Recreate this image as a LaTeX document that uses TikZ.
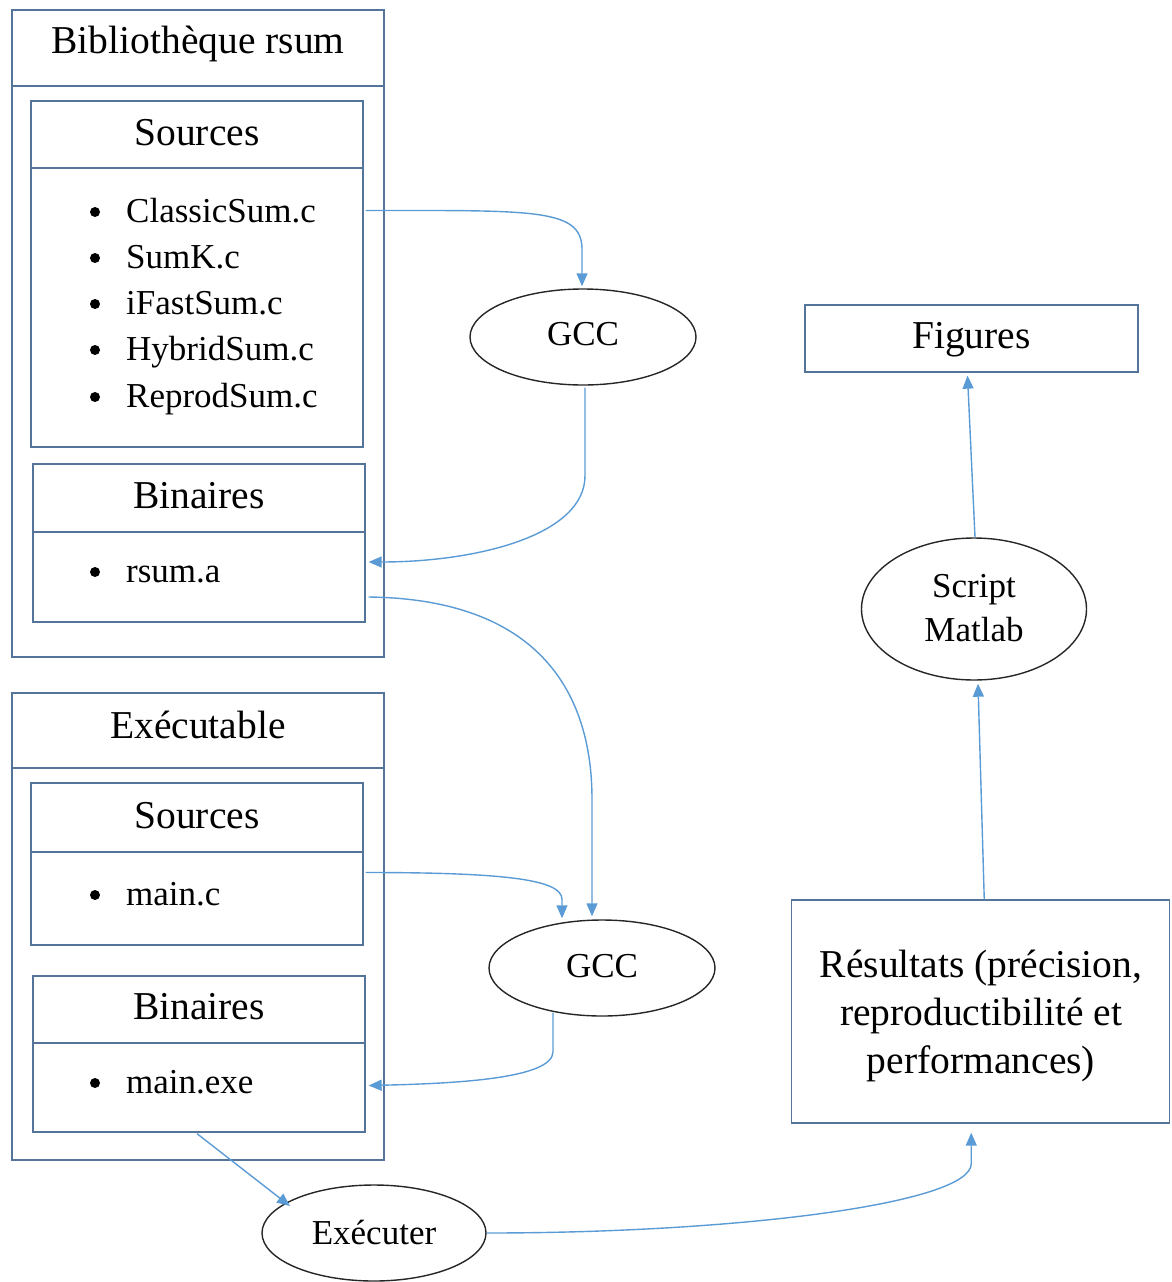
\documentclass[tikz,border=0pt]{standalone}
\usepackage{fontspec}
\setmainfont{Liberation Serif}
\usetikzlibrary{arrows.meta,shapes.geometric,calc}
\definecolor{boxc}{RGB}{84,117,153}
\definecolor{arrc}{RGB}{91,155,213}
\tikzset{
  frame/.style={draw=boxc, line width=1.3pt, rectangle, inner sep=0pt},
  oval/.style={draw=black!85, line width=1.4pt, ellipse, inner sep=0pt},
  hdr/.style={font=\fontsize{39.5}{48}\selectfont, inner sep=0pt, anchor=base},
  itm/.style={font=\fontsize{35}{44}\selectfont, inner sep=0pt, anchor=base west},
  bul/.style={circle, fill=black, inner sep=0pt, minimum size=10pt},
  ctr/.style={font=\fontsize{35}{44}\selectfont, inner sep=0pt, anchor=base},
  conn/.style={draw=arrc, line width=1.4pt, -{Triangle[length=13pt,width=11pt]}},
}
\begin{document}
\begin{tikzpicture}[x=1pt,y=-1pt]
\useasboundingbox (0,0) rectangle (1171,1282);
% --- Bibliotheque rsum
\node[frame, minimum width=372pt, minimum height=76pt] (o1h) at (198,48) {};
\node[frame, minimum width=372pt, minimum height=571pt] (o1b) at (198,371.5) {};
\node[frame, minimum width=332pt, minimum height=67pt] (s1h) at (197,134.5) {};
\node[frame, minimum width=332pt, minimum height=279pt] (s1b) at (197,307.5) {};
\node[frame, minimum width=332pt, minimum height=68pt] (b1h) at (199,498) {};
\node[frame, minimum width=332pt, minimum height=90pt] (b1b) at (199,577) {};
\node[hdr] (t1) at (198,53) {Bibliothèque rsum};
\node[hdr] (t2) at (197,145) {Sources};
\node[bul] (u1) at (95,212) {}; \node[itm] (i1) at (126,222) {ClassicSum.c};
\node[bul] (u2) at (95,258) {}; \node[itm] (i2) at (126,268) {SumK.c};
\node[bul] (u3) at (95,304) {}; \node[itm] (i3) at (126,314) {iFastSum.c};
\node[bul] (u4) at (95,350) {}; \node[itm] (i4) at (126,360) {HybridSum.c};
\node[bul] (u5) at (95,397) {}; \node[itm] (i5) at (126,407) {ReprodSum.c};
\node[hdr] (t3) at (199,508) {Binaires};
\node[bul] (u6) at (95,572) {}; \node[itm] (i6) at (126,582) {rsum.a};
% --- Executable
\node[frame, minimum width=372pt, minimum height=75pt] (o2h) at (198,730.5) {};
\node[frame, minimum width=372pt, minimum height=392pt] (o2b) at (198,964) {};
\node[frame, minimum width=332pt, minimum height=69pt] (s2h) at (197,817.5) {};
\node[frame, minimum width=332pt, minimum height=93pt] (s2b) at (197,898.5) {};
\node[frame, minimum width=332pt, minimum height=67pt] (b2h) at (199,1009.5) {};
\node[frame, minimum width=332pt, minimum height=89pt] (b2b) at (199,1087.5) {};
\node[hdr] (t4) at (198,738) {Exécutable};
\node[hdr] (t5) at (197,828) {Sources};
\node[bul] (u7) at (95,895) {}; \node[itm] (i7) at (126,905) {main.c};
\node[hdr] (t6) at (199,1019) {Binaires};
\node[bul] (u8) at (95,1083) {}; \node[itm] (i8) at (126,1093) {main.exe};
% --- ellipses
\node[oval, minimum width=226pt, minimum height=96pt] (g1) at (583,337) {};
\node[ctr] (g1t) at (583,345) {GCC};
\node[oval, minimum width=226pt, minimum height=96pt] (g2) at (602,968) {};
\node[ctr] (g2t) at (602,977) {GCC};
\node[oval, minimum width=224pt, minimum height=96pt] (ex) at (374,1233) {};
\node[ctr] (ext) at (374,1244) {Exécuter};
\node[oval, minimum width=225pt, minimum height=142pt] (sm) at (974,609) {};
\node[ctr] (sm1) at (974,597) {Script};
\node[ctr] (sm2) at (974,641) {Matlab};
% --- right boxes
\node[frame, minimum width=333pt, minimum height=67pt] (fig) at (971.5,338.5) {};
\node[hdr] (figt) at (971.5,348) {Figures};
\node[frame, minimum width=378pt, minimum height=223pt] (res) at (980.25,1011.5) {};
\node[hdr] (r1) at (981,977) {Résultats (précision,};
\node[hdr] (r2) at (981,1025) {reproductibilité et};
\node[hdr] (r3) at (981,1073) {performances)};
% --- connectors
\draw[conn] ($(s1b.east)+(2,-97)$) .. controls ($(s1b.east)+(170,-97)$) and ($(g1.north)+(-2,-80)$) .. ($(g1.north)+(-1,-40)$) -- ($(g1.north)+(-1,-2)$);
\draw[conn] ($(g1.south)+(2,2)$) -- ($(g1.south)+(2,90)$) .. controls ($(g1.south)+(2,150)$) and ($(b1b.east)+(110,-15)$) .. ($(b1b.east)+(3,-15)$);
\draw[conn] ($(b1b.east)+(3,20)$) .. controls ($(b1b.east)+(170,22)$) and ($(g2.north)+(-10,-230)$) .. ($(g2.north)+(-10,-120)$) -- ($(g2.north)+(-10,-3)$);
\draw[conn] ($(s2b.east)+(2,-26)$) .. controls ($(s2b.east)+(140,-26)$) and ($(g2.north)+(-40,-40)$) .. ($(g2.north)+(-40,-20)$) -- ($(g2.north)+(-40,-1)$);
\draw[conn] ($(g2.south)+(-49,-4)$) -- ($(g2.south)+(-49,35)$) .. controls ($(g2.south)+(-49,62)$) and ($(b2b.east)+(90,-4)$) .. ($(b2b.east)+(3,-2)$);
\draw[conn] ($(b2b.south)+(-2,1)$) -- ($(ex.center)+(-84,-27)$);
\draw[conn] (ex.east) .. controls ($(ex.east)+(250,0)$) and ($(res.south)+(-9,80)$) .. ($(res.south)+(-9,40)$) -- ($(res.south)+(-9,9)$);
\draw[conn] ($(res.north)+(4,0)$) -- ($(sm.south)+(4,3)$);
\draw[conn] ($(sm.north)+(1,0)$) -- ($(fig.south)+(-4,3)$);
\end{tikzpicture}
\end{document}
